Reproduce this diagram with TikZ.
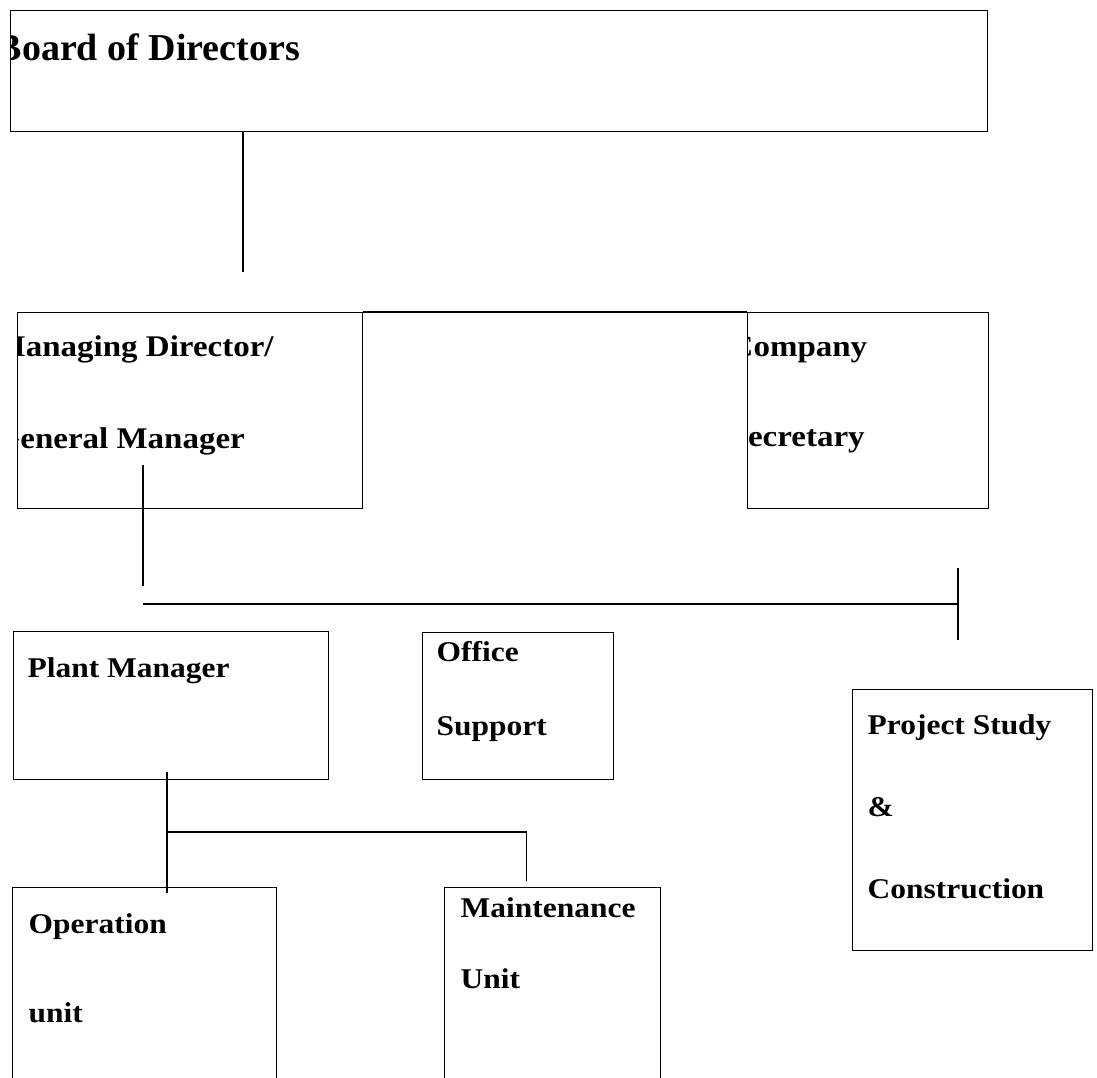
\documentclass[tikz,border=0pt]{standalone}
\usepackage{fontspec}
\setmainfont{Liberation Serif}
\newfontfamily\boxfont[FakeStretch=1.1]{Liberation Serif}

\begin{document}
\begin{tikzpicture}[x=1pt,y=-1pt,line width=1.4pt,
  unit/.style={draw,rectangle,anchor=north west,inner sep=0pt},
  lbl/.style={anchor=base west,inner sep=0pt,align=left},
  wire/.style={line width=1.9pt}]
  \clip (0,0) rectangle (1097,1078);

  % boxes
  \node[unit,minimum width=977pt,minimum height=121pt] (board) at (10,10) {};
  \node[unit,minimum width=345pt,minimum height=196pt] (md) at (17,312) {};
  \node[unit,minimum width=241pt,minimum height=196pt] (cs) at (747,312) {};
  \node[unit,minimum width=315pt,minimum height=148pt] (pm) at (13,631) {};
  \node[unit,minimum width=191pt,minimum height=147pt] (os) at (422,632) {};
  \node[unit,minimum width=240pt,minimum height=261pt] (ps) at (852,689) {};
  \node[unit,minimum width=264pt,minimum height=260pt] (op) at (12,887) {};
  \node[unit,minimum width=216pt,minimum height=260pt] (mu) at (444,887) {};

  % labels (placed at the baseline of their last line),
  % cut off at the box edge where the box is too narrow
  \begin{scope}
    \clip (board.north west) rectangle (board.south east);
    \node[lbl,font=\fontsize{38}{44}\selectfont\bfseries] (boardtxt) at (-4,61) {Board of Directors};
  \end{scope}
  \begin{scope}
    \clip (md.north west) rectangle (md.south east);
    \node[lbl,font=\boxfont\fontsize{30}{92}\selectfont\bfseries] (mdtxt) at (-6,448) {Managing Director/\\General Manager};
  \end{scope}
  \begin{scope}
    \clip (cs.north west) rectangle (cs.south east);
    \node[lbl,font=\boxfont\fontsize{30}{90}\selectfont\bfseries] (cstxt) at (729,446) {Company\\Secretary};
  \end{scope}
  \node[lbl,font=\boxfont\fontsize{28.6}{34}\selectfont\bfseries] (pmtxt) at (27,677) {Plant Manager};
  \node[lbl,font=\boxfont\fontsize{28.6}{73.3}\selectfont\bfseries] (ostxt) at (436,735) {Office\\Support};
  \node[lbl,font=\boxfont\fontsize{28.6}{81.7}\selectfont\bfseries] (pstxt) at (867,898) {Project Study\\\&\\Construction};
  \node[lbl,font=\boxfont\fontsize{28.6}{88.4}\selectfont\bfseries] (optxt) at (28,1022) {Operation\\unit};
  \node[lbl,font=\boxfont\fontsize{28.6}{71}\selectfont\bfseries] (mutxt) at (460,988) {Maintenance\\Unit};

  % connectors
  \coordinate (bdend) at (243,272);
  \coordinate (mdin) at (143,465);
  \coordinate (mdout) at (143,586);
  \coordinate (busw) at (143,604);
  \coordinate (buse) at (958,604);
  \coordinate (tickn) at (958,568);
  \coordinate (ticks) at (958,640);
  \coordinate (pmin) at (166.7,772);
  \coordinate (opin) at (166.7,893);
  \coordinate (split) at (166.7,832);
  \coordinate (muin) at (526.5,881);

  \draw[wire] (board.south -| bdend) -- (bdend);
  \draw (md.north east) -- (cs.north west);
  \draw[wire] (mdin) -- (mdout);
  \draw[wire] (busw) -- (buse);
  \draw[wire] (tickn) -- (ticks);
  \draw[wire] (pmin) -- (opin);
  \draw[wire] (split) -| (muin);
\end{tikzpicture}
\end{document}
